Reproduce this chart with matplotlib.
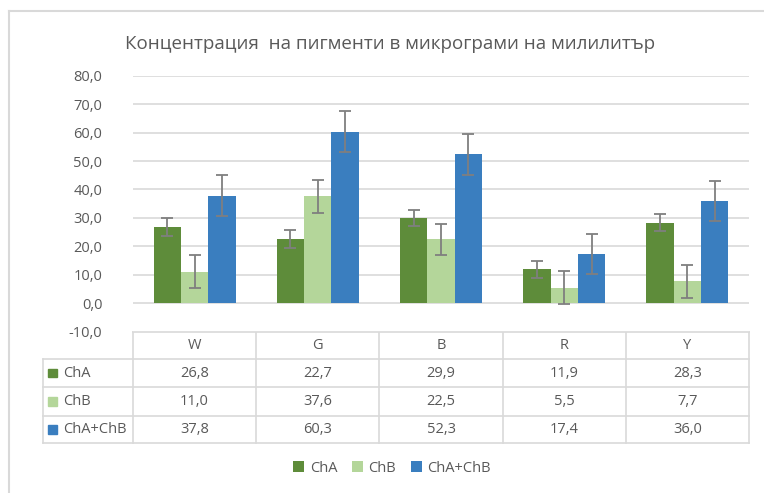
import numpy as np
import matplotlib
matplotlib.use("Agg")
import matplotlib.pyplot as plt
from matplotlib.patches import Rectangle

plt.rcParams['font.family'] = ['Open Sans', 'DejaVu Sans']

title = "Концентрация  на пигменти в микрограми на милилитър"
categories = ["W", "G", "B", "R", "Y"]
series = ["ChA", "ChB", "ChA+ChB"]
cha = [26.8, 22.7, 29.9, 11.9, 28.3]
chb = [11.0, 37.6, 22.5, 5.5, 7.7]
total = [37.8, 60.3, 52.3, 17.4, 36.0]
cha_err = [3.0, 3.1, 2.8, 2.9, 3.0]
chb_err = [5.8, 5.7, 5.4, 5.7, 5.8]
total_err = [7.2, 7.2, 7.3, 7.0, 7.1]
colors = ["#5E8C3A", "#B4D69A", "#3A7EBF"]

W, H = 764, 493
TXT = "#595959"
GRID = "#D9D9D9"

fig = plt.figure(figsize=(W / 100, H / 100), dpi=100)

# plot area in pixel terms
px_l, px_r, px_t, px_b = 133, 749, 75.7, 331.7
ax = fig.add_axes([px_l / W, 1 - px_b / H, (px_r - px_l) / W, (px_b - px_t) / H])

x = np.arange(len(categories))
bw = 0.222
data = [cha, chb, total]
errs = [cha_err, chb_err, total_err]
handles = []
for i, (vals, e) in enumerate(zip(data, errs)):
    pos = x + (i - 1) * bw
    b = ax.bar(pos, vals, bw, color=colors[i], label=series[i], zorder=3)
    handles.append(b)
    ax.errorbar(pos, vals, yerr=e, fmt='none', ecolor="#7F7F7F",
                elinewidth=1.3, capsize=4.5, capthick=1.3, zorder=4)

ax.set_xlim(-0.5, len(categories) - 0.5)
ax.set_ylim(-10, 80)
ax.set_yticks(np.arange(-10, 81, 10))
ax.set_yticklabels([f"{v:.1f}".replace(".", ",") for v in np.arange(-10, 81, 10)],
                   color=TXT, fontsize=10.5)
ax.set_xticks([])
ax.tick_params(axis='y', length=0, pad=22)
for s in ax.spines.values():
    s.set_visible(False)
ax.grid(axis='y', color=GRID, lw=1.2, zorder=0)
ax.set_axisbelow(True)

# overlay in pixel coordinates for frame, title and data table
ov = fig.add_axes([0, 0, 1, 1], zorder=-1)
ov.set_xlim(0, W)
ov.set_ylim(H, 0)
ov.axis('off')
ov.plot([9, 9], [11, H], color=GRID, lw=1.5)
ov.plot([9, W], [11, 11], color=GRID, lw=1.5)

fig.text(390 / W, 1 - 44 / H, title, ha='center', va='center', fontsize=13.5, color=TXT)

# data table
row_y = [332.3, 359, 387.3, 415.7, 443.3]
lab_l = 42.7
col_w = (px_r - px_l) / len(categories)
col_x = [px_l + k * col_w for k in range(len(categories) + 1)]
lk = dict(color=GRID, lw=1.2)
for yy in row_y:
    ov.plot([px_l if yy == row_y[0] else lab_l, px_r], [yy, yy], **lk)
for k, xx in enumerate(col_x):
    ov.plot([xx, xx], [row_y[0], row_y[-1]], **lk)
ov.plot([lab_l, lab_l], [row_y[1], row_y[-1]], **lk)

for k, c in enumerate(categories):
    ov.text((col_x[k] + col_x[k + 1]) / 2, (row_y[0] + row_y[1]) / 2, c,
            ha='center', va='center', fontsize=10.5, color=TXT)
for r, (name, vals) in enumerate(zip(series, data)):
    yc = (row_y[r + 1] + row_y[r + 2]) / 2
    ov.add_patch(Rectangle((48.3, yc - 4.2), 8.4, 8.4, color=colors[r]))
    ov.text(63, yc, name, ha='left', va='center', fontsize=10.5, color=TXT)
    for k, v in enumerate(vals):
        ov.text((col_x[k] + col_x[k + 1]) / 2, yc, f"{v:.1f}".replace(".", ","),
                ha='center', va='center', fontsize=10.5, color=TXT)

fig.legend(handles=handles, labels=series, loc='center', bbox_to_anchor=(392 / W, 1 - 468 / H),
           ncol=3, frameon=False, fontsize=10.5, handlelength=0.75, handleheight=0.75,
           handletextpad=0.4, columnspacing=1.0, labelcolor=TXT)

fig.savefig("out.png", dpi=100)
